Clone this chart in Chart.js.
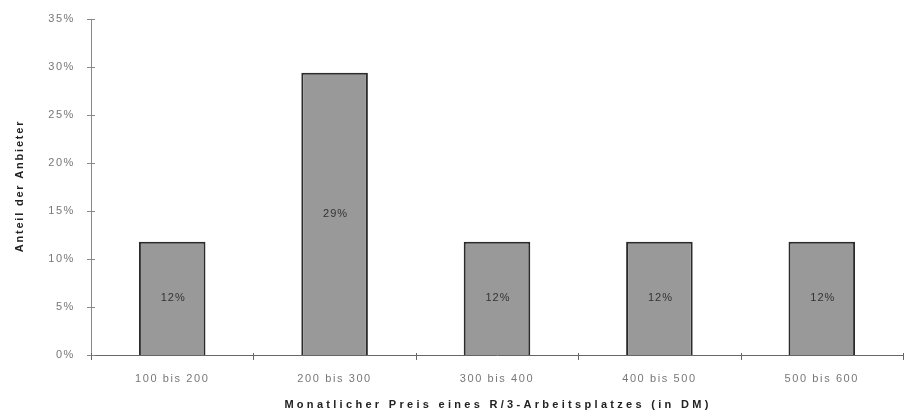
<!DOCTYPE html>
<html>
<head>
<meta charset="utf-8">
<script src="https://cdn.jsdelivr.net/npm/chart.js@4.4.1/dist/chart.umd.min.js"></script>
<style>
    html, body { margin: 0; padding: 0; background: #ffffff; }
    #chart { display: block; }
</style>
</head>
<body>
<canvas id="chart" width="914" height="419"></canvas>
<script>
// Anteil der Anbieter je Preisklasse
const categories = ["100 bis 200", "200 bis 300", "300 bis 400", "400 bis 500", "500 bis 600"];
const shares = [11.8, 29.4, 11.8, 11.8, 11.8];
const yTicks = [0, 5, 10, 15, 20, 25, 30, 35];

const xTitle = "Monatlicher Preis eines R/3-Arbeitsplatzes (in DM)";
const yTitle = "Anteil der Anbieter";

const fontFamily = "'Liberation Sans', Arial, sans-serif";

// letter spacing for all chart text (the original looks stretched)
const spacingPlugin = {
    id: "spacing",
    beforeDraw: (chart) => {
        chart.ctx.letterSpacing = "1.6px";
    },
};

// value labels in the middle of each bar
const barLabels = {
    id: "barLabels",
    afterDatasetsDraw: (chart) => {
        const ctx = chart.ctx;
        const meta = chart.getDatasetMeta(0);
        ctx.save();
        ctx.letterSpacing = "1px";
        ctx.font = "11px " + fontFamily;
        ctx.fillStyle = "#333333";
        ctx.textAlign = "center";
        ctx.textBaseline = "middle";
        meta.data.forEach((bar, i) => {
            const y = (bar.y + bar.base) / 2;
            ctx.fillText(Math.round(shares[i]) + "%", bar.x + 1, y);
        });
        ctx.restore();
    },
};

// tick marks crossing the axes, and the axis titles
const axisExtras = {
    id: "axisExtras",
    afterDraw: (chart) => {
        const ctx = chart.ctx;
        const x = chart.scales.x;
        const y = chart.scales.y;
        const area = chart.chartArea;
        ctx.save();
        ctx.lineWidth = 1;

        ctx.strokeStyle = "#888888";
        yTicks.forEach((t) => {
            const py = Math.round(y.getPixelForValue(t)) + 0.5;
            ctx.beginPath();
            ctx.moveTo(area.left - 4, py);
            ctx.lineTo(area.left + 4, py);
            ctx.stroke();
        });

        ctx.strokeStyle = "#666666";
        for (let i = 0; i <= categories.length; i++) {
            const px = Math.round(x.getPixelForValue(i - 0.5)) + 0.5;
            ctx.beginPath();
            ctx.moveTo(px, area.bottom - 2);
            ctx.lineTo(px, area.bottom + 5);
            ctx.stroke();
        }

        ctx.fillStyle = "#222222";
        ctx.font = "bold 11px " + fontFamily;
        ctx.textAlign = "center";
        ctx.textBaseline = "middle";
        ctx.letterSpacing = "3.3px";
        ctx.fillText(xTitle, (area.left + area.right) / 2 + 1, 405);

        ctx.translate(20, (area.top + area.bottom) / 2 - 1);
        ctx.rotate(-Math.PI / 2);
        ctx.letterSpacing = "1.8px";
        ctx.fillText(yTitle, 0, 0);
        ctx.restore();
    },
};

new Chart(document.getElementById("chart"), {
    type: "bar",
    data: {
        labels: categories,
        datasets: [
            {
                data: shares,
                backgroundColor: "#999999",
                borderColor: "#2b2b2b",
                borderWidth: 2,
                borderSkipped: "bottom",
                barPercentage: 0.41,
                categoryPercentage: 1,
            },
        ],
    },
    options: {
        responsive: false,
        animation: false,
        events: [],
        layout: { padding: { top: 19, right: 11, left: 0, bottom: 0 } },
        plugins: {
            legend: { display: false },
            tooltip: { enabled: false },
        },
        scales: {
            x: {
                offset: true,
                grid: { display: false },
                border: { display: true, color: "#666666", width: 1 },
                ticks: {
                    color: "#777777",
                    font: { family: fontFamily, size: 11 },
                    padding: 9,
                    maxRotation: 0,
                },
                afterFit: (scale) => {
                    scale.height = 64;
                },
            },
            y: {
                min: 0,
                max: 35,
                afterBuildTicks: (scale) => {
                    scale.ticks = yTicks.map((v) => ({ value: v }));
                },
                grid: { display: false },
                border: { display: true, color: "#888888", width: 1 },
                ticks: {
                    color: "#777777",
                    font: { family: fontFamily, size: 11 },
                    padding: 8,
                    callback: (v) => v + "%",
                },
                afterFit: (scale) => {
                    scale.width = 91;
                },
            },
        },
    },
    plugins: [spacingPlugin, barLabels, axisExtras],
});
</script>
</body>
</html>
